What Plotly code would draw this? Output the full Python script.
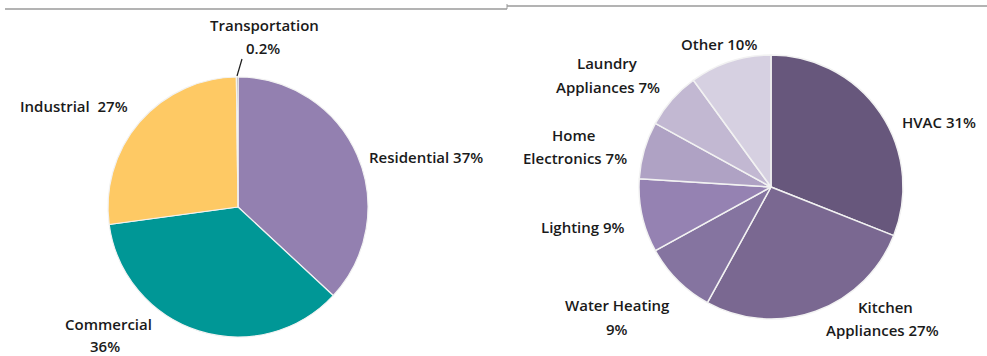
import plotly.graph_objects as go

# Left pie: energy use by sector
sector_names = ["Residential", "Commercial", "Industrial", "Transportation"]
sector_values = [37, 36, 27, 0.2]
sector_colors = ["#9380B0", "#009796", "#FEC964", "#8C8C8C"]

# Right pie: residential end uses
use_names = ["HVAC", "Kitchen Appliances", "Water Heating", "Lighting",
             "Home Electronics", "Laundry Appliances", "Other"]
use_values = [31, 27, 9, 9, 7, 7, 10]
use_colors = ["#67577C", "#7A6891", "#8574A0", "#9582B2", "#AFA2C4", "#C2B8D2", "#D6D0E1"]

W, H = 987, 356

fig = go.Figure()

def dom(cx, cy, r):
    return dict(x=[(cx - r) / W, (cx + r) / W], y=[(H - cy - r) / H, (H - cy + r) / H])

fig.add_trace(go.Pie(
    labels=sector_names, values=sector_values, sort=False, direction="clockwise",
    rotation=0, textinfo="none", hoverinfo="label+percent",
    marker=dict(colors=sector_colors, line=dict(color="#F2F2F2", width=1.2)),
    domain=dom(238, 207, 130), showlegend=False,
))
fig.add_trace(go.Pie(
    labels=use_names, values=use_values, sort=False, direction="clockwise",
    rotation=0, textinfo="none", hoverinfo="label+percent",
    marker=dict(colors=use_colors, line=dict(color="#F2F2F2", width=1.5)),
    domain=dom(771, 187, 132), showlegend=False,
))

def pct(v):
    return f"{v:g}%"

font = dict(family="Open Sans, Lato, sans-serif", size=15, color="#1A1A1A", weight=600)

# label lines (text from data; x, y are pixel positions of each line's centre)
label_lines = [
    (f"{sector_names[3]}", 264, 25),
    (pct(sector_values[3]), 263, 48),
    (f"{sector_names[0]} {pct(sector_values[0])}", 426, 157),
    (f"{sector_names[2]}  {pct(sector_values[2])}", 74, 106),
    (sector_names[1], 108, 324),
    (pct(sector_values[1]), 105, 346),
    (f"{use_names[6]} {pct(use_values[6])}", 719, 44),
    ("Laundry", 607, 63),
    ("Appliances " + pct(use_values[5]), 608, 87),
    ("Home", 573, 135),
    ("Electronics " + pct(use_values[4]), 575, 158),
    (f"{use_names[3]} {pct(use_values[3])}", 583, 227),
    ("Water Heating", 617, 305),
    (pct(use_values[2]), 617, 329),
    (f"{use_names[0]} {pct(use_values[0])}", 939, 122),
    ("Kitchen", 885, 307),
    ("Appliances " + pct(use_values[1]), 882, 330),
]
for text, x, y in label_lines:
    fig.add_annotation(text=text, x=x / W, y=1 - y / H, xref="paper", yref="paper",
                       showarrow=False, font=font, align="center",
                       xanchor="center", yanchor="middle")

shapes = [
    # leader line for Transportation
    dict(type="line", xref="paper", yref="paper", x0=237 / W, y0=1 - 76 / H,
         x1=242 / W, y1=1 - 59 / H, line=dict(color="#1A1A1A", width=1.2)),
    # top separator lines
    dict(type="line", xref="paper", yref="paper", x0=5 / W, y0=1 - 9 / H,
         x1=507 / W, y1=1 - 9 / H, line=dict(color="#9A9A9A", width=1.5)),
    dict(type="line", xref="paper", yref="paper", x0=507 / W, y0=1 - 6 / H,
         x1=987 / W, y1=1 - 6 / H, line=dict(color="#9A9A9A", width=1.5)),
    dict(type="line", xref="paper", yref="paper", x0=507 / W, y0=1 - 4 / H,
         x1=507 / W, y1=1 - 9 / H, line=dict(color="#9A9A9A", width=1)),
]
fig.update_layout(
    width=W, height=H, margin=dict(l=0, r=0, t=0, b=0),
    paper_bgcolor="white", plot_bgcolor="white", shapes=shapes,
)

fig.write_html("out.html")
